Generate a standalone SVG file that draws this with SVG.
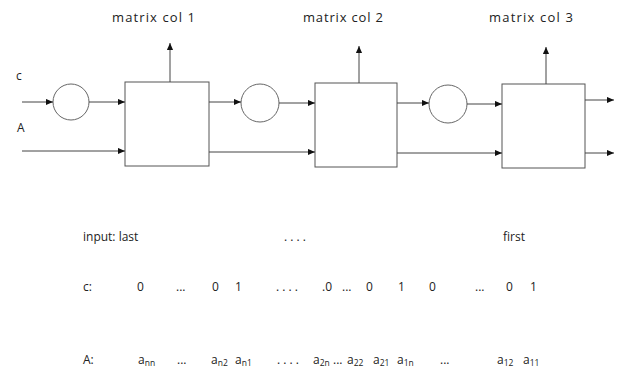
<svg xmlns="http://www.w3.org/2000/svg" width="621" height="380" viewBox="0 0 621 380">
<defs>
<marker id="ah" viewBox="0 0 8 8" refX="8" refY="4" markerWidth="7" markerHeight="7" markerUnits="userSpaceOnUse" orient="auto">
<path d="M0,0.5 L8,4 L0,7.5 Z" fill="#111"/>
</marker>
<style>
.box{fill:#fff;stroke:#555;stroke-width:1}
.node{fill:#fff;stroke:#666;stroke-width:1}
.ln{stroke:#444;stroke-width:1;fill:none;marker-end:url(#ah)}
text{font-family:"Open Sans","Liberation Sans",Arial,sans-serif;fill:#222;font-size:12px}
.t{font-size:13px}
.s{font-size:8.5px}
</style>
</defs>
<rect width="621" height="380" fill="#fff"/>

<g id="title1"><text class="t" x="112" y="22" textLength="83">matrix col 1</text></g>
<g id="title2"><text class="t" x="303" y="22" textLength="80">matrix col 2</text></g>
<g id="title3"><text class="t" x="489" y="22" textLength="84">matrix col 3</text></g>

<g id="label-c"><text x="16" y="80">c</text></g>
<g id="label-A"><text x="17" y="132">A</text></g>

<g id="circle1"><circle class="node" cx="71" cy="102" r="18"/></g>
<g id="box1"><rect class="box" x="125" y="82" width="84" height="84"/></g>
<g id="circle2"><circle class="node" cx="260" cy="103" r="19"/></g>
<g id="box2"><rect class="box" x="315" y="83" width="82" height="84"/></g>
<g id="circle3"><circle class="node" cx="448" cy="104" r="19"/></g>
<g id="box3"><rect class="box" x="502" y="84" width="83" height="84"/></g>

<g id="connectors">
<line class="ln" x1="22" y1="102" x2="53" y2="102"/>
<line class="ln" x1="89" y1="102" x2="125" y2="102"/>
<line class="ln" x1="22" y1="151" x2="125" y2="151"/>
<line class="ln" x1="170" y1="82" x2="170" y2="43"/>
<line class="ln" x1="209" y1="102" x2="241" y2="102"/>
<line class="ln" x1="279" y1="103" x2="315" y2="103"/>
<line class="ln" x1="209" y1="152" x2="315" y2="152"/>
<line class="ln" x1="359" y1="83" x2="359" y2="46"/>
<line class="ln" x1="397" y1="103" x2="429" y2="103"/>
<line class="ln" x1="467" y1="104" x2="502" y2="104"/>
<line class="ln" x1="397" y1="153" x2="502" y2="153"/>
<line class="ln" x1="546" y1="84" x2="546" y2="47"/>
<line class="ln" x1="585" y1="100" x2="614" y2="100"/>
<line class="ln" x1="585" y1="153" x2="614" y2="153"/>
</g>

<g id="input-row">
<text x="83" y="241">input:  last</text>
<text x="284" y="241">.   .   .   .</text>
<text x="503" y="241">first</text>
</g>

<g id="c-row">
<text x="83" y="291">c:</text>
<text x="137" y="291">0</text>
<text x="176" y="291">...</text>
<text x="212" y="291">0</text>
<text x="235" y="291">1</text>
<text x="276" y="291">.   .   .   .</text>
<text x="322" y="291">.0</text>
<text x="342" y="291">...</text>
<text x="366" y="291">0</text>
<text x="398" y="291">1</text>
<text x="429" y="291">0</text>
<text x="475" y="291">...</text>
<text x="506" y="291">0</text>
<text x="530" y="291">1</text>
</g>

<g id="A-row">
<text x="83" y="364">A:</text>
<text x="138" y="364">a<tspan class="s" dy="2">nn</tspan></text>
<text x="177" y="364">...</text>
<text x="211" y="364">a<tspan class="s" dy="2">n2</tspan></text>
<text x="235" y="364">a<tspan class="s" dy="2">n1</tspan></text>
<text x="277" y="364">.   .   .   .</text>
<text x="313" y="364">a<tspan class="s" dy="2">2n</tspan></text>
<text x="333" y="364">...</text>
<text x="347" y="364">a<tspan class="s" dy="2">22</tspan></text>
<text x="373" y="364">a<tspan class="s" dy="2">21</tspan></text>
<text x="397" y="364">a<tspan class="s" dy="2">1n</tspan></text>
<text x="440" y="364">...</text>
<text x="497" y="364">a<tspan class="s" dy="2">12</tspan></text>
<text x="523" y="364">a<tspan class="s" dy="2">11</tspan></text>
</g>
</svg>
